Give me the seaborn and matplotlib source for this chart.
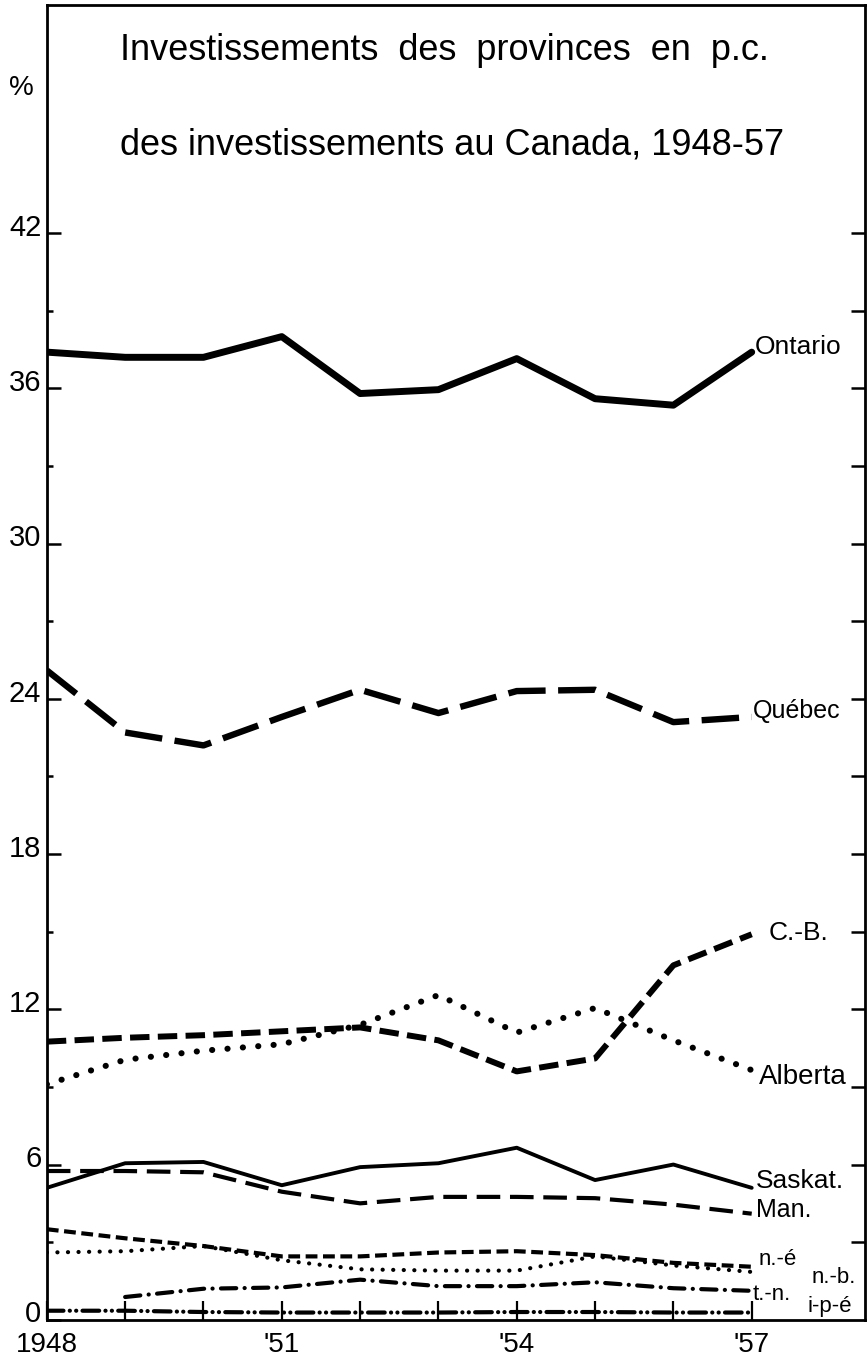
import matplotlib
matplotlib.use("Agg")
import matplotlib.pyplot as plt
import matplotlib.transforms as mtransforms
import seaborn as sns
import pandas as pd

years = list(range(1948, 1958))
ontario = [37.4, 37.2, 37.2, 38.0, 35.8, 35.95, 37.15, 35.6, 35.35, 37.4]
quebec = [25.1, 22.7, 22.2, 23.3, 24.35, 23.45, 24.3, 24.35, 23.1, 23.3]
cb = [10.75, 10.9, 11.0, 11.15, 11.3, 10.8, 9.6, 10.1, 13.7, 14.9]
alberta = [9.1, 10.05, 10.4, 10.65, 11.4, 12.55, 11.1, 12.05, 10.8, 9.65]
saskat = [5.1, 6.05, 6.1, 5.2, 5.9, 6.05, 6.65, 5.4, 6.0, 5.1]
man = [5.75, 5.75, 5.7, 4.95, 4.5, 4.75, 4.75, 4.7, 4.45, 4.1]
ne = [3.5, 3.15, 2.85, 2.45, 2.45, 2.6, 2.65, 2.5, 2.2, 2.05]
nb = [2.6, 2.65, 2.85, 2.3, 1.95, 1.9, 1.9, 2.45, 2.1, 1.85]
tn_years = years[1:]  # Terre-Neuve from 1949
tn = [0.88, 1.2, 1.25, 1.55, 1.3, 1.3, 1.45, 1.22, 1.12]
ipe = [0.35, 0.35, 0.3, 0.28, 0.28, 0.28, 0.3, 0.3, 0.28, 0.28]

ytick_vals = [0, 6, 12, 18, 24, 30, 36, 42]
xtick_labels = {1948: "1948", 1951: "'51", 1954: "'54", 1957: "'57"}
title_lines = ["Investissements  des  provinces  en  p.c.",
               "des investissements au Canada, 1948-57"]

sns.set_style("ticks")
plt.rcParams["font.family"] = ["Liberation Sans", "DejaVu Sans"]
plt.rcParams["text.color"] = "black"
plt.rcParams["xtick.color"] = "black"
plt.rcParams["ytick.color"] = "black"
plt.rcParams["lines.scale_dashes"] = False

fig = plt.figure(figsize=(8.67, 13.62), dpi=100)
ax = fig.add_axes([0.054, 0.031, 0.944, 0.965])

# name, x, y, linewidth, linestyle, capstyle, label offset (pt), label size
series = [
    ("Ontario", years, ontario, 5.0, "-", "butt", (2, 4), 19),
    ("Québec", years, quebec, 4.6, (0, (27, 9)), "butt", (1, 4), 18),
    ("C.-B.", years, cb, 4.3, (0, (14, 6)), "butt", (12, 1), 19),
    ("Alberta", years, alberta, 4.4, (0, (0.1, 11)), "round", (5, -5), 20),
    ("Saskat.", years, saskat, 2.8, "-", "butt", (3, 5), 19),
    ("Man.", years, man, 3.0, (0, (17, 7)), "butt", (3, 3), 18),
    ("n.-é", years, ne, 3.0, (0, (8.5, 4)), "butt", (5, 5), 16),
    ("n.-b.", years, nb, 3.0, (0, (0.1, 7.5)), "round", (43, -4), 16),
    ("t.-n.", tn_years, tn, 3.0, (0, (11, 6, 0.1, 6)), "round", (1, -3), 16),
    ("i-p-é", years, ipe, 3.0, (0, (12, 4.5, 0.1, 4.5, 0.1, 4.5)), "round", (40, 4), 16),
]

for name, xs, ys, lw, ls, cap, off, fs in series:
    df = pd.DataFrame({"year": xs, "pct": ys})
    sns.lineplot(data=df, x="year", y="pct", ax=ax, color="black",
                 linewidth=lw, linestyle=ls, dash_capstyle=cap,
                 solid_joinstyle="round", solid_capstyle="round")
    ax.annotate(name, xy=(xs[-1], ys[-1]), xytext=off, textcoords="offset points",
                ha="left", va="center", fontsize=fs, color="black")

ax.set_xlim(1948, 1958.45)
ax.set_ylim(0, 50.8)

ax.set_xticks(years)
ax.set_xticklabels([xtick_labels.get(y, "") for y in years])
ax.set_yticks(ytick_vals)
ax.set_yticks(list(range(3, 42, 6)), minor=True)
ax.tick_params(axis="x", direction="in", length=14, width=1.6, pad=9,
               labelsize=20)
ax.tick_params(axis="y", which="major", direction="in", length=10, width=1.8,
               pad=4, labelsize=21)
ax.tick_params(axis="y", which="minor", direction="in", length=4, width=1.8)
# the printed numbers sit a little above their ticks
shift = mtransforms.ScaledTranslation(0, 6 / 72, fig.dpi_scale_trans)
for lbl in ax.get_yticklabels():
    lbl.set_transform(lbl.get_transform() + shift)
ax.set_xlabel("")
ax.set_ylabel("")
for sp in ax.spines.values():
    sp.set_visible(True)
    sp.set_linewidth(2)
    sp.set_color("black")

sec = ax.secondary_yaxis("right")
sec.set_yticks(list(range(3, 43, 3)))
sec.tick_params(direction="in", length=10, width=1.8, labelright=False)

ax.text(-0.031, 0.937, "%", transform=ax.transAxes, ha="center", va="center",
        fontsize=20)
ax.text(0.089, 0.966, title_lines[0], transform=ax.transAxes, ha="left",
        va="center", fontsize=26)
ax.text(0.089, 0.894, title_lines[1], transform=ax.transAxes, ha="left",
        va="center", fontsize=26)

fig.savefig("out.png", dpi=100)
